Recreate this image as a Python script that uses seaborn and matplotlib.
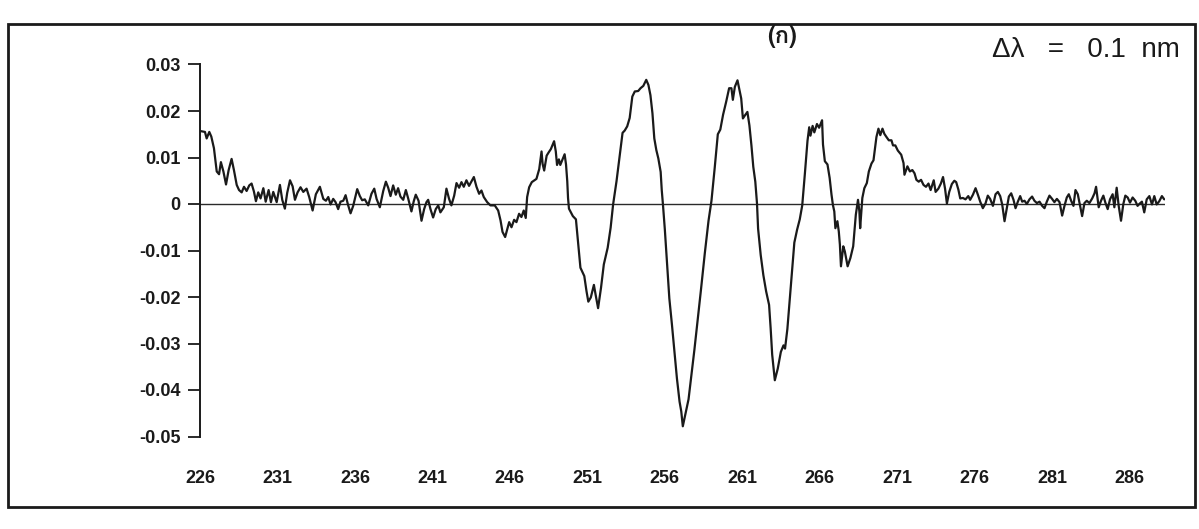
import matplotlib
matplotlib.use("Agg")
import matplotlib.pyplot as plt
import seaborn as sns
from matplotlib import font_manager
from matplotlib.ft2font import FT2Font
from matplotlib.patches import Rectangle

# first-derivative spectrum (nm, absorbance)
wavelength = [
    # 226 - 234
    226.00, 226.32, 226.43, 226.60, 226.73, 226.90, 227.08, 227.23, 227.35, 227.51,
    227.68, 227.85, 228.04, 228.19, 228.37, 228.52, 228.69, 228.84, 229.01, 229.18,
    229.33, 229.48, 229.61, 229.76, 229.91, 230.09, 230.24, 230.43, 230.58, 230.73,
    230.95, 231.16, 231.31, 231.48, 231.63, 231.81, 231.98, 232.13, 232.30, 232.49,
    232.67, 232.88, 233.05, 233.27, 233.48, 233.74,
    # 234 - 244
    233.96, 234.13, 234.28, 234.43, 234.60, 234.75, 234.92, 235.07, 235.25, 235.40,
    235.55, 235.72, 235.89, 236.15, 236.32, 236.47, 236.64, 236.86, 237.07, 237.25,
    237.40, 237.61, 237.83, 238.00, 238.15, 238.30, 238.47, 238.64, 238.79, 238.94,
    239.12, 239.29, 239.44, 239.65, 239.80, 239.93, 240.11, 240.30, 240.47, 240.62,
    240.73, 240.88, 241.05, 241.22, 241.38, 241.52, 241.74, 241.91, 242.08, 242.23,
    242.41, 242.56, 242.73, 242.88, 243.03, 243.20, 243.37, 243.68,
    # 244 - 252.5
    243.85, 244.02, 244.17, 244.32, 244.54, 244.75, 245.03, 245.25, 245.40, 245.53,
    245.70, 245.85, 245.96, 246.11, 246.28, 246.43, 246.60, 246.75, 246.90, 247.03,
    247.12, 247.25, 247.42, 247.55, 247.72, 247.90, 248.05, 248.12, 248.22, 248.38,
    248.51, 248.65, 248.86, 248.97, 249.05, 249.17, 249.26, 249.38, 249.54, 249.63,
    249.71, 249.76, 249.82, 250.07, 250.27, 250.40, 250.56, 250.81, 250.95, 251.07,
    251.23, 251.43, 251.54, 251.70, 251.89, 252.07, 252.32, 252.51,
    # 252.5 - 262
    252.67, 252.89, 253.08, 253.28, 253.42, 253.58, 253.74, 253.91, 254.07, 254.29,
    254.44, 254.62, 254.81, 254.95, 255.08, 255.21, 255.33, 255.46, 255.59, 255.74,
    255.81, 255.89, 256.01, 256.16, 256.30, 256.47, 256.63, 256.79, 256.96, 257.07,
    257.17, 257.36, 257.54, 257.74, 257.92, 258.13, 258.34, 258.59, 258.83, 259.02,
    259.23, 259.43, 259.59, 259.77, 259.97, 260.16, 260.31, 260.40, 260.53, 260.70,
    260.81, 260.94, 261.05, 261.19, 261.34, 261.47, 261.60, 261.72, 261.85, 261.96,
    # 262 - 271
    262.03, 262.20, 262.37, 262.55, 262.74, 262.84, 262.94, 263.11, 263.30, 263.50,
    263.67, 263.77, 263.92, 264.16, 264.37, 264.55, 264.72, 264.88, 265.05, 265.22,
    265.33, 265.41, 265.55, 265.66, 265.83, 265.97, 266.16, 266.22, 266.34, 266.51,
    266.65, 266.77, 266.86, 266.95, 267.02, 267.15, 267.24, 267.31, 267.38, 267.53,
    267.63, 267.71, 267.81, 267.99, 268.17, 268.34, 268.48, 268.57, 268.62, 268.76,
    268.89, 269.05, 269.18, 269.35, 269.48, 269.67, 269.80, 269.92, 270.06, 270.18,
    270.32, 270.47, 270.64, 270.74, 270.89, 271.05,
    # 271 - 284
    271.27, 271.42, 271.48, 271.67, 271.83, 271.99, 272.13, 272.25, 272.40, 272.55,
    272.71, 272.87, 273.03, 273.17, 273.37, 273.49, 273.67, 273.83, 273.97, 274.10,
    274.22, 274.37, 274.54, 274.70, 274.82, 274.96, 275.08, 275.25, 275.42, 275.60,
    275.72, 275.90, 276.07, 276.22, 276.37, 276.54, 276.71, 276.86, 277.01, 277.19,
    277.36, 277.51, 277.66, 277.79, 277.94, 278.09, 278.22, 278.37, 278.52, 278.65,
    278.80, 278.95, 279.08, 279.23, 279.38, 279.55, 279.72, 279.87, 280.03, 280.20,
    280.37, 280.52, 280.67, 280.84, 281.01, 281.16, 281.32, 281.49, 281.66, 281.81,
    281.96, 282.09, 282.24, 282.39, 282.52, 282.67, 282.82, 282.95, 283.10, 283.25,
    283.42, 283.60, 283.75, 283.85,
    # 284 - end
    284.02, 284.17, 284.32, 284.45, 284.60, 284.75, 284.92, 285.03, 285.18, 285.31,
    285.46, 285.61, 285.74, 285.89, 286.04, 286.21, 286.38, 286.53, 286.64, 286.81,
    286.96, 287.12, 287.29, 287.46, 287.61, 287.76, 287.93, 288.10, 288.25,
]

d1 = [
    0.0157, 0.0155, 0.0141, 0.0155, 0.0145, 0.0120, 0.0070, 0.0064, 0.0090, 0.0070,
    0.0042, 0.0073, 0.0097, 0.0073, 0.0041, 0.0030, 0.0025, 0.0037, 0.0028, 0.0040,
    0.0044, 0.0027, 0.0006, 0.0025, 0.0012, 0.0034, 0.0005, 0.0030, 0.0004, 0.0026,
    0.0004, 0.0041, 0.0009, -0.0010, 0.0024, 0.0051, 0.0038, 0.0009, 0.0025, 0.0036,
    0.0026, 0.0033, 0.0015, -0.0014, 0.0021, 0.0037,

    0.0011, 0.0007, 0.0015, -0.0001, 0.0011, 0.0004, -0.0011, 0.0005, 0.0007, 0.0019,
    -0.0001, -0.0020, -0.0004, 0.0032, 0.0017, 0.0008, 0.0010, -0.0003, 0.0022, 0.0033,
    0.0011, -0.0007, 0.0028, 0.0048, 0.0035, 0.0017, 0.0040, 0.0020, 0.0034, 0.0016,
    0.0009, 0.0030, 0.0012, -0.0016, 0.0006, 0.0020, 0.0007, -0.0036, -0.0011, 0.0004,
    0.0009, -0.0011, -0.0029, -0.0011, -0.0003, -0.0018, -0.0007, 0.0033, 0.0011, -0.0003,
    0.0018, 0.0045, 0.0035, 0.0047, 0.0037, 0.0051, 0.0039, 0.0058,

    0.0037, 0.0022, 0.0029, 0.0015, 0.0004, -0.0003, -0.0003, -0.0014, -0.0035, -0.0060,
    -0.0071, -0.0053, -0.0039, -0.0050, -0.0034, -0.0039, -0.0021, -0.0028, -0.0014, -0.0030,
    0.0015, 0.0036, 0.0047, 0.0050, 0.0054, 0.0075, 0.0113, 0.0086, 0.0072, 0.0104,
    0.0111, 0.0118, 0.0135, 0.0113, 0.0084, 0.0096, 0.0084, 0.0094, 0.0107, 0.0085,
    0.0049, 0.0013, -0.0010, -0.0026, -0.0033, -0.0079, -0.0137, -0.0155, -0.0187, -0.0210,
    -0.0201, -0.0174, -0.0195, -0.0224, -0.0180, -0.0130, -0.0094, -0.0051,

    -0.0001, 0.0049, 0.0099, 0.0153, 0.0158, 0.0167, 0.0185, 0.0231, 0.0242, 0.0243,
    0.0249, 0.0254, 0.0267, 0.0256, 0.0234, 0.0195, 0.0141, 0.0116, 0.0098, 0.0069,
    0.0030, -0.0002, -0.0055, -0.0131, -0.0203, -0.0260, -0.0317, -0.0375, -0.0425, -0.0446,
    -0.0478, -0.0448, -0.0420, -0.0363, -0.0313, -0.0249, -0.0185, -0.0106, -0.0036, 0.0007,
    0.0078, 0.0150, 0.0160, 0.0192, 0.0220, 0.0249, 0.0249, 0.0224, 0.0252, 0.0266,
    0.0248, 0.0227, 0.0184, 0.0191, 0.0198, 0.0169, 0.0126, 0.0080, 0.0048, 0.0001,

    -0.0053, -0.0110, -0.0153, -0.0188, -0.0217, -0.0267, -0.0324, -0.0379, -0.0354, -0.0318,
    -0.0304, -0.0311, -0.0269, -0.0169, -0.0083, -0.0055, -0.0033, -0.0003, 0.0065, 0.0136,
    0.0165, 0.0147, 0.0168, 0.0154, 0.0172, 0.0164, 0.0180, 0.0128, 0.0092, 0.0085,
    0.0056, 0.0020, -0.0002, -0.0016, -0.0052, -0.0037, -0.0059, -0.0087, -0.0134, -0.0091,
    -0.0102, -0.0116, -0.0134, -0.0116, -0.0091, -0.0023, 0.0009, -0.0016, -0.0052, 0.0013,
    0.0034, 0.0045, 0.0070, 0.0087, 0.0094, 0.0144, 0.0162, 0.0148, 0.0162, 0.0151,
    0.0144, 0.0137, 0.0137, 0.0126, 0.0126, 0.0115,

    0.0106, 0.0088, 0.0063, 0.0081, 0.0070, 0.0073, 0.0066, 0.0052, 0.0048, 0.0052,
    0.0041, 0.0037, 0.0044, 0.0030, 0.0051, 0.0026, 0.0033, 0.0044, 0.0058, 0.0033,
    0.0001, 0.0026, 0.0043, 0.0050, 0.0047, 0.0031, 0.0012, 0.0013, 0.0010, 0.0017,
    0.0009, 0.0020, 0.0034, 0.0020, 0.0005, -0.0009, 0.0001, 0.0018, 0.0011, -0.0004,
    0.0021, 0.0026, 0.0017, -0.0001, -0.0037, -0.0009, 0.0016, 0.0023, 0.0009, -0.0009,
    0.0005, 0.0017, 0.0005, 0.0007, 0.0000, 0.0010, 0.0016, 0.0007, 0.0002, 0.0005,
    -0.0004, -0.0009, 0.0005, 0.0018, 0.0011, 0.0004, 0.0011, 0.0004, -0.0025, -0.0004,
    0.0014, 0.0021, 0.0007, -0.0004, 0.0030, 0.0021, -0.0004, -0.0026, 0.0002, 0.0007,
    0.0002, 0.0012, 0.0023, 0.0037,

    -0.0007, 0.0007, 0.0018, 0.0003, -0.0011, 0.0010, 0.0021, -0.0007, 0.0035, -0.0004,
    -0.0036, 0.0000, 0.0018, 0.0014, 0.0003, 0.0014, 0.0007, -0.0004, 0.0000, 0.0005,
    -0.0018, 0.0010, 0.0017, -0.0001, 0.0017, -0.0001, 0.0006, 0.0017, 0.0010,
]

x_ticks = [226, 231, 236, 241, 246, 251, 256, 261, 266, 271, 276, 281, 286]
y_ticks = [0.03, 0.02, 0.01, 0, -0.01, -0.02, -0.03, -0.04, -0.05]
y_tick_labels = ["0.03", "0.02", "0.01", "0", "-0.01", "-0.02", "-0.03", "-0.04", "-0.05"]

panel_label = "(ก)"
step_label = "Δλ   =   0.1  nm"


def thai_family():
    # first installed font that actually has the Thai letter
    for f in font_manager.fontManager.ttflist:
        try:
            if FT2Font(f.fname).get_char_index(ord("ก")):
                return f.name
        except Exception:
            continue
    return "DejaVu Sans"


sns.set_theme(style="white")
plt.rcParams["font.family"] = ["Liberation Sans", "DejaVu Sans"]

W, H = 1199, 529
fig = plt.figure(figsize=(W / 100, H / 100), dpi=100)
fig.patch.set_facecolor("white")

# axes box in pixels: left 200, right 1165, top 64.5, bottom 436.5
ax = fig.add_axes([200 / W, 1 - 436.5 / H, 965 / W, 372 / H])
ax.set_facecolor("white")

sns.lineplot(x=wavelength, y=d1, ax=ax, color="#1a1a1a", linewidth=1.6,
             sort=False, estimator=None)
ax.axhline(0, color="#2a2a2a", linewidth=1.0, zorder=1)

ax.set_xlim(226, 288.3)
ax.set_ylim(-0.05, 0.03)

for side in ["top", "right", "bottom"]:
    ax.spines[side].set_visible(False)
ax.spines["left"].set_color("#1a1a1a")
ax.spines["left"].set_linewidth(1.4)

ax.set_yticks(y_ticks)
ax.set_yticklabels(y_tick_labels)
ax.set_xticks(x_ticks)
ax.set_xticklabels([str(t) for t in x_ticks])
ax.tick_params(axis="y", direction="out", length=9, width=1.3, pad=5,
               labelsize=13, colors="#1a1a1a", left=True)
ax.tick_params(axis="x", length=0, pad=24, labelsize=13, colors="#1a1a1a")
for lab in ax.get_xticklabels() + ax.get_yticklabels():
    lab.set_fontweight("bold")
ax.set_xlabel("")
ax.set_ylabel("")
ax.grid(False)

# chart-area border
fig.patches.append(Rectangle((8 / W, 1 - 507 / H), (1195 - 8) / W, (507 - 24) / H,
                             transform=fig.transFigure, fill=False,
                             edgecolor="#1a1a1a", linewidth=2.0))

fig.text(782 / W, 1 - 36 / H, panel_label, ha="center", va="center",
         fontsize=17, fontweight="bold", color="#1a1a1a",
         family=[thai_family(), "DejaVu Sans"])
fig.text(1180 / W, 1 - 50 / H, step_label, ha="right", va="center",
         fontsize=20, color="#1a1a1a")

fig.savefig("out.png", dpi=100, facecolor="white")
